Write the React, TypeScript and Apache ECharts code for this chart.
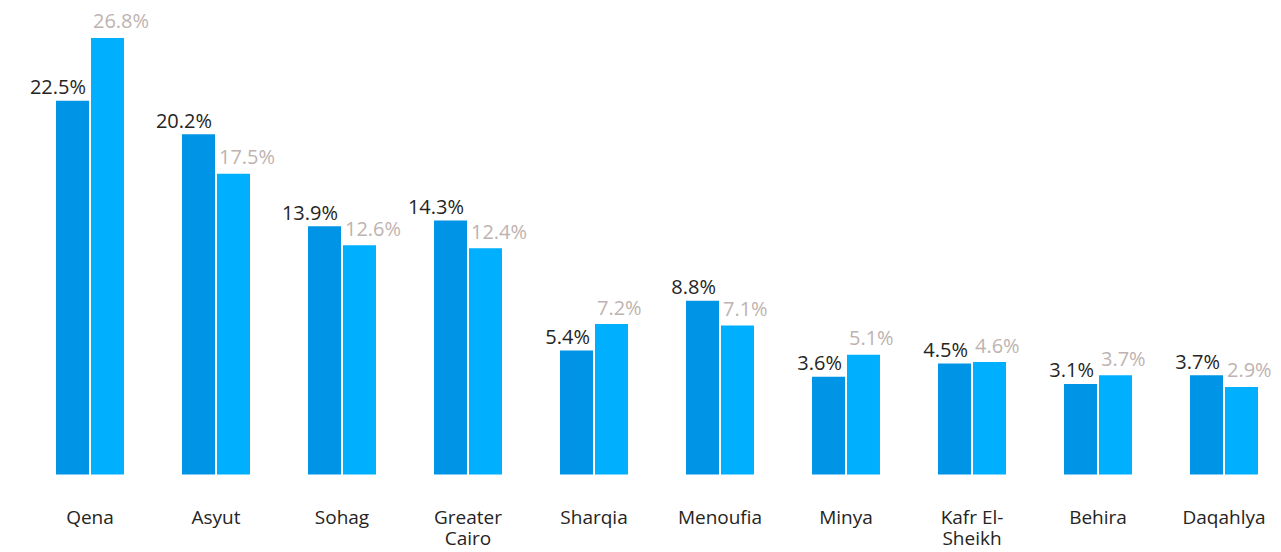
import React, { useEffect, useRef } from "react";
import * as echarts from "echarts";

const categories = [
  "Qena",
  "Asyut",
  "Sohag",
  "Greater Cairo",
  "Sharqia",
  "Menoufia",
  "Minya",
  "Kafr El-Sheikh",
  "Behira",
  "Daqahlya",
];
const seriesA = [22.5, 20.2, 13.9, 14.3, 5.4, 8.8, 3.6, 4.5, 3.1, 3.7];
const seriesB = [26.8, 17.5, 12.6, 12.4, 7.2, 7.1, 5.1, 4.6, 3.7, 2.9];

const FONT = "'Segoe UI', 'Open Sans', 'Noto Sans', sans-serif";

function wrapName(name: string): string {
  if (name.indexOf(" ") < 0) return name;
  const hy = name.indexOf("-");
  if (hy >= 0) return name.slice(0, hy + 1) + "\n" + name.slice(hy + 1);
  return name.replace(" ", "\n");
}

export default function App() {
  const ref = useRef<HTMLDivElement>(null);
  useEffect(() => {
    if (!ref.current) return;
    const chart = echarts.init(ref.current, undefined, { renderer: "svg" });
    const pct = (p: any) => Number(p.value).toFixed(1) + "%";
    chart.setOption({
      animation: false,
      grid: { left: 27, right: 0, top: 36.5, bottom: 77.5, containLabel: false },
      xAxis: {
        type: "category",
        data: categories,
        axisLine: { show: false },
        axisTick: { show: false },
        splitLine: { show: false },
        axisLabel: {
          interval: 0,
          fontFamily: FONT,
          fontSize: 19,
          lineHeight: 21,
          color: "#252423",
          margin: 32,
          formatter: (v: string) => wrapName(v),
        },
      },
      yAxis: {
        type: "value",
        min: -3.1,
        max: 26.9,
        startValue: -3.1,
        show: false,
        splitLine: { show: false },
      },
      series: [
        {
          type: "bar",
          data: seriesA,
          barWidth: 33,
          barGap: "6%",
          itemStyle: { color: "#0094E6" },
          label: {
            show: true,
            position: ["100%", 0],
            align: "right",
            verticalAlign: "bottom",
            offset: [-3, -4],
            fontFamily: FONT,
            fontSize: 20,
            color: "#252423",
            formatter: pct,
          },
        },
        {
          type: "bar",
          data: seriesB,
          barWidth: 33,
          barGap: "6%",
          itemStyle: { color: "#00B0FF" },
          label: {
            show: true,
            position: [0, 0],
            align: "left",
            verticalAlign: "bottom",
            offset: [2, -7],
            fontFamily: FONT,
            fontSize: 20,
            color: "#BEB3B0",
            formatter: pct,
          },
        },
      ],
    });
    return () => chart.dispose();
  }, []);
  return (
    <div
      style={{
        position: "fixed",
        left: 0,
        top: 0,
        width: 1281,
        height: 552,
        overflow: "hidden",
        background: "#fff",
      }}
    >
      <div ref={ref} style={{ width: 1286.5, height: 552 }} />
    </div>
  );
}
